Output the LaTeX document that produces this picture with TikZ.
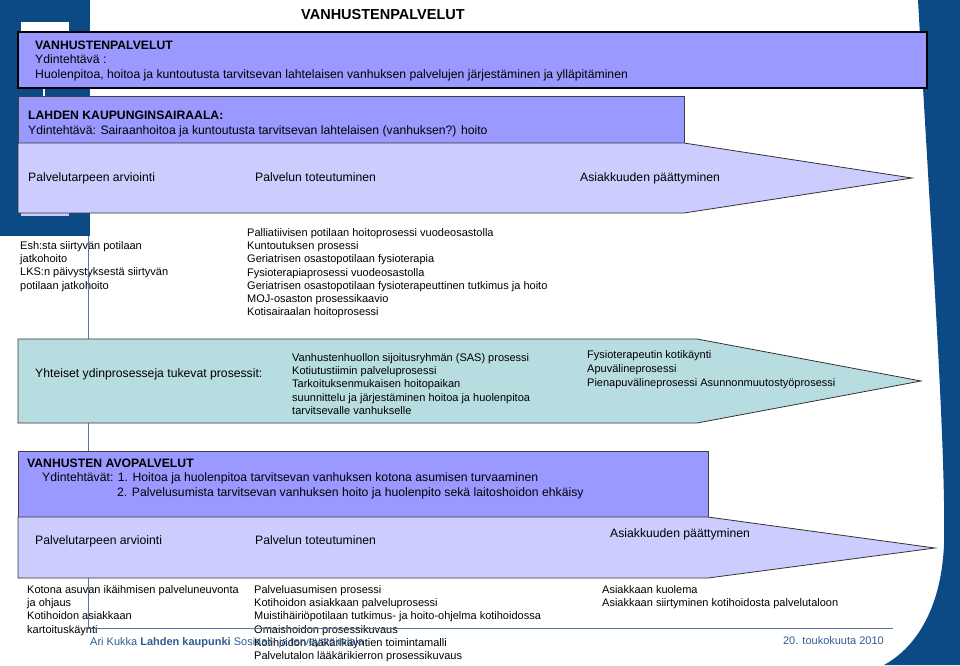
\documentclass[tikz,border=0pt]{standalone}
\usepackage{fontspec}
\setmainfont{Liberation Sans}
\definecolor{hdrblue}{HTML}{9999FF}
\definecolor{lavender}{HTML}{CCCCFF}
\definecolor{tealbox}{HTML}{B7DDE1}
\definecolor{bandblue}{HTML}{0B4A85}
\definecolor{rulecol}{HTML}{5A7896}
\definecolor{footblue}{HTML}{2D5C93}

\begin{document}
\begin{tikzpicture}[x=1pt,y=-1pt,
    hdrbox/.style={fill=hdrblue,draw=black!75,line width=0.8pt},
    phase/.style={fill=lavender,draw=black!80,line width=0.8pt},
    label/.style={anchor=base west,inner sep=0pt,font=\fontsize{12.2}{14}\selectfont},
    listtext/.style={anchor=north west,align=left,inner sep=0pt,font=\fontsize{11}{13.3}\selectfont}]
    \useasboundingbox (0,0) rectangle (960,665);
    % background
    \fill[bandblue] (0,0) rectangle (90,236);
    \fill[white] (21,22) rectangle (69,34);
    \fill[white] (43,86) rectangle (45,98);
    \fill[lavender] (21,212) rectangle (69,216);
    \fill[bandblue] (918,0) .. controls (932,250) and (946,450) .. (944,545)
        .. controls (941,610) and (915,648) .. (884,665) -- (960,665) -- (960,0) -- cycle;
    \node[anchor=base,inner sep=0pt,font=\fontsize{14.5}{16}\selectfont\bfseries] (title) at (383,19) {VANHUSTENPALVELUT};
    % lists
    \node[listtext] (eshList) at (20,241) {Esh:sta siirtyvän potilaan\\jatkohoito\\LKS:n päivystyksestä siirtyvän\\potilaan jatkohoito};
    \node[listtext] (sairList) at (247,228) {Palliatiivisen potilaan hoitoprosessi vuodeosastolla\\Kuntoutuksen prosessi\\Geriatrisen osastopotilaan fysioterapia\\Fysioterapiaprosessi vuodeosastolla\\Geriatrisen osastopotilaan fysioterapeuttinen tutkimus ja hoito\\MOJ-osaston prosessikaavio\\Kotisairaalan hoitoprosessi};
    \node[listtext] (kotiList) at (27,585) {Kotona asuvan ikäihmisen palveluneuvonta\\ja ohjaus\\Kotihoidon asiakkaan\\kartoituskäynti};
    \node[listtext] (avoList) at (254,585) {Palveluasumisen prosessi\\Kotihoidon asiakkaan palveluprosessi\\Muistihäiriöpotilaan tutkimus- ja hoito-ohjelma kotihoidossa\\Omaishoidon prosessikuvaus\\Kotihoidon lääkärikäyntien toimintamalli\\Palvelutalon lääkärikierron prosessikuvaus};
    \node[listtext] (endList) at (602,585) {Asiakkaan kuolema\\Asiakkaan siirtyminen kotihoidosta palvelutaloon};
    % rule
    \coordinate (R1) at (88,236);
    \coordinate (R2) at (88,628);
    \coordinate (R3) at (893,628);
    \draw[rulecol,line width=1pt] (R1) -- (R2) -- (R3);
    % top boxes
    \draw[fill=hdrblue,line width=2.6pt] (18,32) rectangle (927,88);
    \node[label,font=\fontsize{12.2}{14}\selectfont\bfseries] (vpHead) at (35,49) {VANHUSTENPALVELUT};
    \node[label] (vpTask) at (35,63) {Ydintehtävä :};
    \node[label] (vpText) at (35,78) {Huolenpitoa, hoitoa ja kuntoutusta tarvitsevan lahtelaisen vanhuksen palvelujen järjestäminen ja ylläpitäminen};
    \draw[hdrbox] (18,96) rectangle (684,143);
    \node[label,font=\fontsize{12.2}{14}\selectfont\bfseries] (ksHead) at (28,119) {LAHDEN KAUPUNGINSAIRAALA:};
    \node[label] (ksText) at (28,134) {Ydintehtävä: Sairaanhoitoa ja kuntoutusta tarvitsevan lahtelaisen (vanhuksen?) hoito};
    \draw[phase] (18,143) -- (684,143) -- (912,178) -- (684,213) -- (18,213) -- cycle;
    \node[label] (ksArv) at (28,181) {Palvelutarpeen arviointi};
    \node[label] (ksTot) at (255,181) {Palvelun toteutuminen};
    \node[label] (ksEnd) at (580,181) {Asiakkuuden päättyminen};
    % support processes
    \draw[fill=tealbox,draw=black!80,line width=0.8pt] (18,339) -- (697,339) -- (921,381) -- (697,423) -- (18,423) -- cycle;
    \node[label] (tukiHead) at (35,377) {Yhteiset ydinprosesseja tukevat prosessit:};
    \node[listtext] (tukiMid) at (292,353) {Vanhustenhuollon sijoitusryhmän (SAS) prosessi\\Kotiutustiimin palveluprosessi\\Tarkoituksenmukaisen hoitopaikan\\suunnittelu ja järjestäminen hoitoa ja huolenpitoa\\tarvitsevalle vanhukselle};
    \node[listtext,font=\fontsize{11}{14}\selectfont] (tukiRight) at (587,350) {Fysioterapeutin kotikäynti\\Apuvälineprosessi\\Pienapuvälineprosessi Asunnonmuutostyöprosessi};
    % open care
    \draw[hdrbox] (18,451) rectangle (708,517);
    \node[label,font=\fontsize{12.2}{14}\selectfont\bfseries] (avHead) at (27,467) {VANHUSTEN AVOPALVELUT};
    \node[label] (avTask1) at (42,481) {Ydintehtävät: 1. Hoitoa ja huolenpitoa tarvitsevan vanhuksen kotona asumisen turvaaminen};
    \node[label] (avTask2) at (117,496) {2. Palvelusumista tarvitsevan vanhuksen hoito ja huolenpito sekä laitoshoidon ehkäisy};
    \draw[phase] (18,517) -- (708,517) -- (935,548) -- (708,578) -- (18,578) -- cycle;
    \node[label] (avArv) at (35,544) {Palvelutarpeen arviointi};
    \node[label] (avTot) at (255,544) {Palvelun toteutuminen};
    \node[label] (avEnd) at (610,537) {Asiakkuuden päättyminen};
    % footer
    \node[anchor=base west,inner sep=0pt,text=footblue,font=\fontsize{11}{13}\selectfont] (author) at (90,645) {Ari Kukka \textbf{Lahden kaupunki} Sosiaali- ja terveystoimiala};
    \node[anchor=base east,inner sep=0pt,text=footblue,font=\fontsize{11}{13}\selectfont] (date) at (884,644) {20. toukokuuta 2010};
\end{tikzpicture}
\end{document}
